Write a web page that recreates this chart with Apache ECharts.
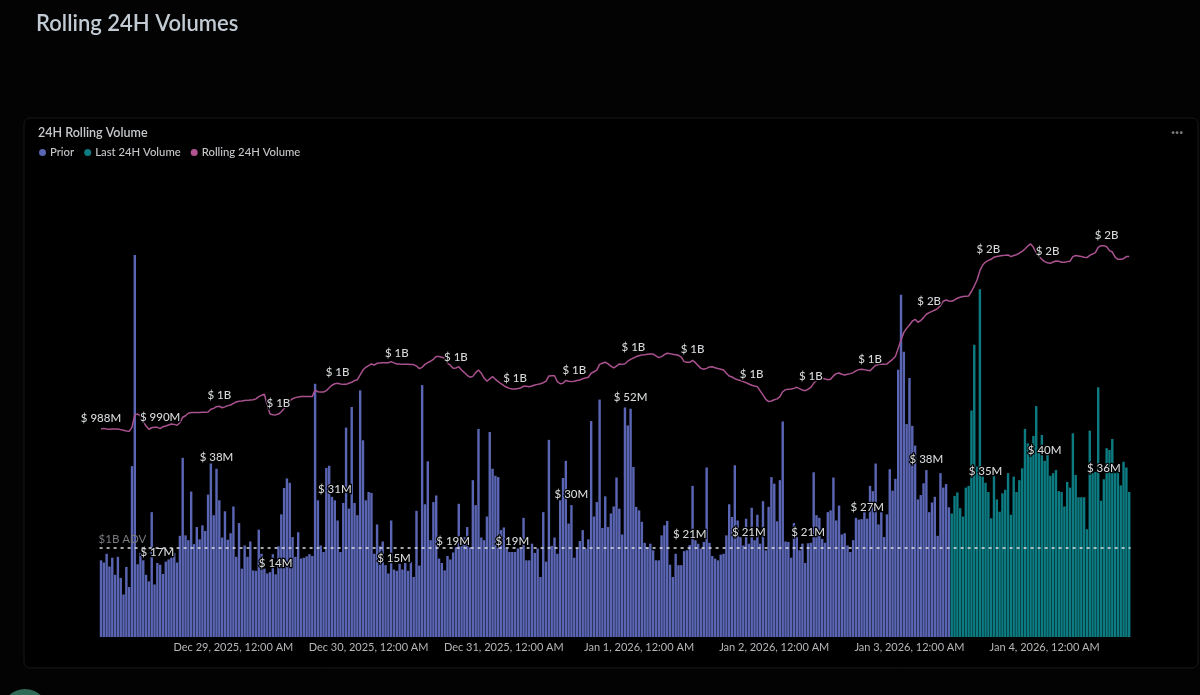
<!DOCTYPE html>
<html>
<head>
<meta charset="utf-8">
<title>Rolling 24H Volumes</title>
<script src="https://cdn.jsdelivr.net/npm/echarts@6/dist/echarts.min.js"></script>
<style>
  html, body { margin: 0; padding: 0; background: #030304; }
  #chart { width: 1200px; height: 695px; }
</style>
</head>
<body>
<div id="chart"></div>
<script>
// 30 minute volume in $M
const priorVolume = [
  17.5,17.0,19.0,16.1,18.1,14.2,18.3,13.5,9.7,16.0,11.4,39.0,87.2,16.6,19.2,17.5,14.2,12.7,28.5,12.0,
  16.9,16.5,14.4,17.2,17.7,18.1,19.2,17.0,23.1,40.9,23.2,22.1,33.2,21.2,25.1,22.3,25.5,24.2,32.5,39.6,
  27.8,38.4,31.2,22.7,28.7,22.2,23.7,29.8,18.3,26.0,15.6,20.9,18.3,21.8,15.2,15.1,24.5,19.0,15.6,14.5,
  14.8,18.9,14.3,20.7,28.0,34.0,36.2,35.2,22.8,18.3,23.9,17.9,18.1,18.4,18.9,18.5,57.8,31.2,20.9,19.4,
  38.6,39.1,32.0,31.2,26.6,19.4,30.6,47.8,29.3,52.5,30.6,27.8,56.3,44.9,31.2,33.1,32.9,19.0,25.7,20.7,
  21.8,16.4,14.5,26.6,15.4,15.1,16.7,15.4,16.9,15.1,17.1,13.7,28.8,16.3,57.5,30.3,40.1,22.1,30.8,32.3,
  17.9,16.9,15.2,18.5,17.7,19.3,20.5,30.4,22.8,22.8,25.1,20.5,35.8,30.1,47.5,22.7,22.1,27.5,46.8,38.4,
  36.8,36.5,24.4,25.0,20.2,19.4,19.4,19.4,20.2,20.2,27.2,17.5,17.5,21.3,19.2,20.2,13.7,28.5,17.2,45.0,
  20.8,22.7,19.0,31.2,36.3,40.2,25.9,30.1,18.1,20.2,21.9,24.4,20.2,22.3,49.3,27.5,30.8,54.2,24.9,32.1,
  25.1,28.2,29.8,36.4,29.3,23.4,52.4,48.3,52.1,38.8,29.7,28.9,26.3,21.5,20.5,21.3,19.8,17.5,17.5,23.2,
  25.5,26.5,16.5,13.7,19.0,16.4,16.4,19.6,19.8,21.0,34.5,22.1,21.3,20.2,21.7,38.7,21.5,18.5,17.9,17.5,
  18.8,19.0,23.2,30.3,27.4,39.2,26.6,22.8,20.9,27.0,21.3,29.5,22.1,27.9,21.3,31.0,19.8,29.7,36.5,35.0,
  26.4,35.8,49.2,21.8,21.7,18.1,26.0,22.8,19.8,21.3,16.9,21.4,21.5,37.6,27.8,27.2,22.4,21.5,28.5,28.9,
  36.4,26.6,30.0,23.4,23.7,20.9,19.4,22.1,27.2,26.8,26.9,28.5,27.0,34.5,33.3,39.6,25.7,28.5,22.8,28.0,
  38.3,33.4,36.1,61.0,78.1,65.1,48.6,59.1,48.2,43.7,31.4,32.4,35.1,38.1,28.5,30.7,32.0,23.1,37.4,34.1,
  34.9,29.6
];
const lastVolume = [
  28.2,32.2,33.0,29.4,27.5,34.1,34.5,51.7,66.7,38.9,79.4,36.6,35.2,33.1,27.1,36.8,31.4,28.6,32.8,33.6,
  37.4,27.9,36.6,33.1,35.8,38.5,47.5,44.2,41.6,45.9,52.7,42.3,46.1,40.2,41.6,36.8,37.4,38.1,33.3,33.1,
  29.8,35.4,34.1,46.5,37.0,31.9,31.9,31.9,24.6,47.1,37.4,37.7,57.0,31.1,36.0,43.1,42.7,45.2,37.4,37.7,
  34.6,40.0,38.7,33.1
];
// rolling 24h sum in $M
const rollingVolume = [
  988,991,988,987,988,988,988,985,982,979,977,996,1055,1059,1051,1023,1002,987,994,996,
  996,990,999,1002,1007,1012,1010,1006,1018,1044,1051,1063,1066,1066,1066,1066,1067,1067,1069,1082,
  1086,1094,1096,1089,1093,1099,1102,1110,1116,1120,1121,1123,1124,1126,1127,1131,1142,1148,1153,1102,
  1059,1056,1055,1059,1070,1085,1101,1121,1132,1137,1140,1142,1142,1142,1142,1142,1173,1165,1164,1164,
  1170,1184,1196,1203,1205,1202,1200,1200,1205,1210,1218,1222,1245,1268,1281,1289,1297,1292,1300,1302,
  1303,1303,1303,1308,1302,1297,1297,1295,1295,1295,1294,1294,1287,1275,1281,1295,1303,1310,1319,1332,
  1332,1329,1324,1300,1291,1276,1278,1284,1268,1256,1243,1234,1238,1256,1268,1253,1230,1215,1226,1237,
  1224,1213,1203,1194,1186,1181,1178,1178,1180,1183,1191,1191,1189,1192,1197,1200,1203,1208,1215,1240,
  1241,1241,1213,1203,1205,1218,1215,1213,1215,1218,1221,1227,1230,1234,1253,1260,1268,1295,1300,1305,
  1297,1287,1278,1287,1297,1295,1298,1310,1319,1325,1332,1336,1340,1341,1343,1344,1344,1335,1327,1332,
  1341,1348,1346,1343,1341,1338,1329,1308,1305,1305,1314,1303,1289,1276,1272,1276,1283,1284,1279,1275,
  1272,1268,1253,1240,1235,1227,1222,1218,1213,1208,1202,1196,1192,1189,1169,1150,1129,1118,1121,1127,
  1131,1142,1165,1175,1177,1178,1181,1186,1180,1173,1170,1177,1186,1205,1218,1224,1229,1226,1222,1224,
  1240,1251,1254,1248,1245,1248,1251,1256,1264,1270,1272,1270,1267,1265,1278,1291,1294,1295,1295,1297,
  1308,1319,1332,1371,1411,1447,1466,1482,1500,1509,1495,1503,1517,1533,1541,1547,1553,1560,1574,1595,
  1601,1596,1595,1601,1609,1614,1617,1618,1620,1641,1667,1696,1740,1767,1781,1789,1794,1804,1807,1810,
  1812,1813,1815,1807,1812,1816,1823,1832,1843,1857,1867,1851,1826,1807,1794,1783,1778,1775,1781,1786,
  1785,1780,1780,1783,1785,1807,1812,1810,1807,1804,1802,1813,1819,1826,1851,1859,1859,1854,1835,1829,
  1804,1794,1794,1797,1807,1807
];
const tickLabels = [
  'Dec 29, 2025, 12:00 AM', 'Dec 30, 2025, 12:00 AM', 'Dec 31, 2025, 12:00 AM',
  'Jan 1, 2026, 12:00 AM', 'Jan 2, 2026, 12:00 AM', 'Jan 3, 2026, 12:00 AM', 'Jan 4, 2026, 12:00 AM'
];
const advLine = 20.3; // $1B ADV, per 30 minutes

const firstTick = 47; // bar index of Dec 29 00:00
const slots = rollingVolume.map((_, i) => i);
const isTick = i => i >= firstTick && (i - firstTick) % 48 === 0;

const fmtMoney = v => v >= 1000 ? '$ ' + Math.round(v / 1000) + 'B' : '$ ' + Math.round(v) + 'M';

const labelStyle = {
  show: true,
  position: 'top',
  distance: 5,
  color: '#d6d8da',
  fontFamily: 'Lato',
  fontSize: 11.5,
  fontWeight: 500,
  textBorderColor: '#000',
  textBorderWidth: 2.5,
  formatter: p => fmtMoney(p.value)
};

// a value label on every 21st point
const barData = (vals, offset) => {
  const out = slots.map(() => null);
  vals.forEach((v, k) => {
    const i = k + offset;
    out[i] = i % 21 === 20 ? { value: v, label: labelStyle } : v;
  });
  return out;
};
const lineData = rollingVolume.map((v, i) => i % 21 === 0 ? { value: v, label: labelStyle } : v);

const chart = echarts.init(document.getElementById('chart'));

chart.setOption({
  backgroundColor: '#030304',
  animation: false,
  textStyle: { fontFamily: 'Lato' },
  graphic: [
    {
      type: 'rect', z: -10, silent: true,
      shape: { x: 24, y: 118, width: 1174, height: 550, r: 6 },
      style: { fill: '#000', stroke: '#17181b', lineWidth: 1 }
    },
    {
      type: 'text', left: 1171, top: 125, silent: true,
      style: { text: '···', fill: '#75777b', font: 'bold 15px Lato' }
    },
    {
      type: 'circle', silent: true,
      shape: { cx: 25, cy: 712, r: 23 },
      style: { fill: '#2f6b57' }
    }
  ],
  title: [
    {
      text: 'Rolling 24H Volumes', left: 31, top: 8,
      textStyle: { color: '#c2cbd3', fontSize: 22, fontWeight: 600, fontFamily: 'Lato' }
    },
    {
      text: '24H Rolling Volume', left: 33, top: 121,
      textStyle: { color: '#c6c8cc', fontSize: 12.5, fontWeight: 600, fontFamily: 'Lato' }
    }
  ],
  legend: {
    left: 34, top: 142,
    icon: 'circle',
    itemWidth: 7, itemHeight: 7, itemGap: 10,
    textStyle: { color: '#c6c8cc', fontSize: 11.3, fontWeight: 500, fontFamily: 'Lato', padding: [0, 0, 0, -1] },
    data: ['Prior', 'Last 24H Volume', 'Rolling 24H Volume']
  },
  grid: { left: 99.6, right: 69.4, top: 177, bottom: 58 },
  xAxis: {
    type: 'category',
    data: slots,
    boundaryGap: true,
    axisLine: { show: false },
    axisTick: { show: false },
    axisLabel: {
      interval: (i) => isTick(i),
      formatter: (v, i) => tickLabels[(i - firstTick) / 48],
      color: '#b4b6ba',
      fontSize: 11,
      fontFamily: 'Lato',
      margin: 5
    }
  },
  yAxis: [
    { type: 'value', min: 0, max: 105, show: false },
    { type: 'value', min: 0, max: 2185, show: false }
  ],
  series: [
    {
      name: 'Prior',
      type: 'bar',
      stack: 'vol',
      barCategoryGap: '14%',
      itemStyle: { color: '#5a66b4' },
      data: barData(priorVolume, 0),
      markLine: {
        silent: true,
        symbol: 'none',
        lineStyle: { color: '#d9dce0', type: [3, 4], width: 1.5 },
        label: {
          position: 'insideStartTop',
          formatter: '$1B ADV',
          color: '#77797d',
          fontSize: 11.5,
          fontFamily: 'Lato',
          distance: [-1, 3]
        },
        data: [{ yAxis: advLine }]
      }
    },
    {
      name: 'Last 24H Volume',
      type: 'bar',
      stack: 'vol',
      itemStyle: { color: '#0d7c82' },
      data: barData(lastVolume, priorVolume.length)
    },
    {
      name: 'Rolling 24H Volume',
      type: 'line',
      yAxisIndex: 1,
      showSymbol: true,
      showAllSymbol: true,
      symbol: 'circle',
      symbolSize: 0,
      lineStyle: { color: '#a9528f', width: 1.5 },
      itemStyle: { color: '#b0558f' },
      z: 5,
      data: lineData
    }
  ]
});
</script>
</body>
</html>
